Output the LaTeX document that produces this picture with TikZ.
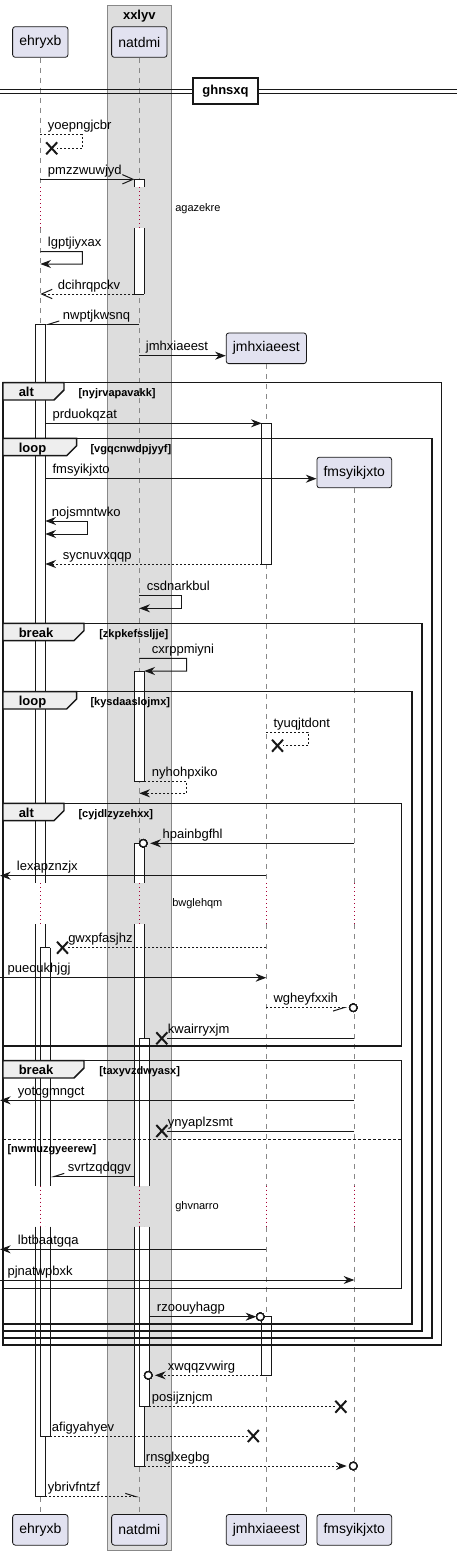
\documentclass[tikz,border=0pt]{standalone}
\usepackage{fontspec}
\setmainfont{Liberation Sans}
\usepackage{xcolor}
\usetikzlibrary{arrows.meta}

\definecolor{seqline}{HTML}{181818}
\definecolor{partfill}{HTML}{E2E2F0}
\definecolor{boxfill}{HTML}{DDDDDD}
\definecolor{boxline}{HTML}{888888}
\definecolor{tabfill}{HTML}{EEEEEE}
\definecolor{delayred}{HTML}{A80036}

% message label: x, baseline y, text
\newcommand{\mlab}[3]{\node[mlabel] (lb-#3) at (#1,#2) {#3};}
% destroy cross at a named coordinate
\newcommand{\killmark}[1]{\draw[xmark] (#1) ++(-5.5,-6) -- ++(11,12) ++(0,-12) -- ++(-11,12);}
% group frame: top, bottom, right, tab right, keyword, guard, guard x
\newcommand{\grpframe}[7]{%
  \draw[frame] (3,#1) rectangle (#3,#2);
  \draw[ftab] (3,#1) -- (#4,#1) -- (#4,#1+7.3) -- (#4-10,#1+17.3) -- (3,#1+17.3) -- cycle;
  \node[ftitle] (kw-#6) at (18.5,#1+14) {#5};
  \node[guard] (gd-#6) at (#7,#1+14) {[#6]};
}

\begin{document}
\begin{tikzpicture}[x=0.75pt, y=-0.75pt]
        % ================= styles =================
        \tikzset{
            % participant boxes
            part/.style={draw=seqline, fill=partfill, rounded corners=2pt, line width=0.6pt,
                minimum height=23pt, inner xsep=5pt, inner ysep=0pt, font=\fontsize{10.5}{12}\selectfont},
            % lifelines and delays
            lifeline/.style={draw=boxline, line width=0.7pt, dash pattern=on 3.75pt off 3.75pt},
            delayline/.style={draw=delayred, line width=0.75pt, dash pattern=on 0.75pt off 2.25pt},
            % activation bars
            actv/.style={draw=seqline, line width=0.75pt},
            % messages
            msg/.style={draw=seqline, line width=0.75pt},
            ret/.style={msg, dash pattern=on 1.5pt off 1.5pt},
            fillhead/.style={-{Stealth[length=8pt, width=6pt, inset=2.6pt]}},
            bothhead/.style={{Stealth[length=8pt, width=6pt, inset=2.6pt]}-{Stealth[length=8pt, width=6pt, inset=2.6pt]}},
            openhead/.style={-{Straight Barb[length=8pt, width=7pt]}},
            halfleft/.style={-{Straight Barb[left, length=8pt, width=5pt]}},
            halfright/.style={-{Straight Barb[right, length=8pt, width=5pt]}},
            mlabel/.style={anchor=base west, inner sep=0pt, font=\fontsize{9.75}{11}\selectfont},
            delaytext/.style={anchor=west, inner sep=0pt, font=\fontsize{8.25}{10}\selectfont},
            % marks
            xmark/.style={draw=seqline, line width=1.5pt},
            omark/.style={draw=seqline, fill=white, line width=0.9pt},
            % frames
            frame/.style={draw=seqline, line width=1.1pt},
            ftab/.style={draw=seqline, fill=tabfill, line width=1.1pt},
            ftitle/.style={anchor=base west, inner sep=0pt, font=\bfseries\fontsize{9.75}{11}\selectfont},
            guard/.style={anchor=base west, inner sep=0pt, font=\bfseries\fontsize{8.25}{10}\selectfont},
            divbox/.style={draw=seqline, fill=white, line width=1.5pt, minimum width=48.75pt,
                minimum height=19.5pt, inner sep=0pt, font=\bfseries\fontsize{9.75}{11}\selectfont}
        }
        \useasboundingbox (0,0) rectangle (457,1555);

        % ================= box xxlyv =================
        \draw[fill=boxfill, draw=boxline, line width=0.75pt] (107.3,6) rectangle (171.3,1550);
        \node[font=\bfseries\fontsize{9.75}{11}\selectfont, inner sep=0pt] (xxlyv) at (139.3,15.7) {xxlyv};

        % ================= participants =================
        \node[part] (ehryxb) at (40.3,42) {ehryxb};
        \node[part] (natdmi) at (139.3,42) {natdmi};
        \node[part] (jmhxiaeest) at (266.3,348.3) {jmhxiaeest};
        \node[part] (fmsyikjxto) at (354.3,472.5) {fmsyikjxto};
        \node[part] (ehryxb-b) at (40.3,1529.8) {ehryxb};
        \node[part] (natdmi-b) at (139.3,1529.8) {natdmi};
        \node[part] (jmhxiaeest-b) at (266.3,1529.8) {jmhxiaeest};
        \node[part] (fmsyikjxto-b) at (354.3,1529.8) {fmsyikjxto};

        % lifeline x positions and bar edges
        \coordinate (edgeL) at (0,0);
        \coordinate (ehL) at (35.7,0);
        \coordinate (eh) at (40.3,0);
        \coordinate (ehA) at (45.3,0);
        \coordinate (ehB) at (50.3,0);
        \coordinate (naL) at (134.3,0);
        \coordinate (na) at (139.3,0);
        \coordinate (naA) at (144.3,0);
        \coordinate (naB) at (149.3,0);
        \coordinate (jmL) at (261.7,0);
        \coordinate (jm) at (266.3,0);
        \coordinate (jmA) at (271.7,0);
        \coordinate (fm) at (354.3,0);

        % lifelines, broken at the three delays
        \foreach \c/\p in {eh/ehryxb, na/natdmi}
            \draw[lifeline] (\p.south) -- (\c |- 0,187.3) (\c |- 0,228.3) -- (\c |- 0,883.3);
        \foreach \c/\p in {jm/jmhxiaeest, fm/fmsyikjxto}
            \draw[lifeline] (\p.south) -- (\c |- 0,883.3);
        \foreach \c/\p in {eh/ehryxb, na/natdmi, jm/jmhxiaeest, fm/fmsyikjxto}
            \draw[lifeline] (\c |- 0,924) -- (\c |- 0,1185.7) (\c |- 0,1226.7) -- (\p-b.north);
        \foreach \c in {eh, na}
            \draw[delayline] (\c |- 0,187.3) -- (\c |- 0,228.3);
        \foreach \c in {eh, na, jm, fm}
            \draw[delayline] (\c |- 0,883.3) -- (\c |- 0,924) (\c |- 0,1185.7) -- (\c |- 0,1226.7);

        % ================= activation bars =================
        % left/right/top/bottom/top cap/bottom cap (0 = open at a delay)
        \foreach \l/\r/\t/\b/\tc/\bc in {naL/naA/179.3/187.3/1/0, naL/naA/228.3/294/0/1,
                ehL/ehA/324.3/883.3/1/0, ehL/ehA/924/1185.7/0/0, ehL/ehA/1226.7/1496.7/0/1,
                jmL/jmA/423.3/564/1/1, naL/naA/671/781/1/1,
                naL/naA/843.3/883.3/1/0, naL/naA/924/1185.7/0/0, naL/naA/1226.7/1466/0/1,
                eh/ehB/947.7/1185.7/1/0, eh/ehB/1226.7/1436/0/1,
                na/naB/1038.3/1185.7/1/0, na/naB/1226.7/1406.7/0/1,
                jmL/jmA/1316.7/1375/1/1}
        {
            \fill[white] (\l |- 0,\t) rectangle (\r |- 0,\b);
            \draw[actv] (\l |- 0,\t) -- (\l |- 0,\b) (\r |- 0,\t) -- (\r |- 0,\b);
            \draw[actv, draw opacity=\tc] (\l |- 0,\t) -- (\r |- 0,\t);
            \draw[actv, draw opacity=\bc] (\l |- 0,\b) -- (\r |- 0,\b);
        }

        % ================= divider ghnsxq =================
        \draw[msg] (0,89.3) -- (457,89.3) (0,93.3) -- (457,93.3);
        \node[divbox] (ghnsxq) at (225.5,91) {ghnsxq};

        % ================= groups =================
        \grpframe{382.7}{1345}{441.7}{64}{alt}{nyjrvapavakk}{78.3}
        \grpframe{438.3}{1338}{432}{76.7}{loop}{vgqcnwdpjyyf}{90.3}
        \grpframe{623.3}{1331}{422}{84}{break}{zkpkefssljje}{99}
        \grpframe{691.7}{1324}{412}{76.7}{loop}{kysdaaslojmx}{90.3}
        \grpframe{803.3}{1046}{401.7}{64}{alt}{cyjdlzyzehxx}{78.3}
        \grpframe{1060.7}{1288.3}{401.7}{84}{break}{taxyvzdwyasx}{99}
        % else branch
        \draw[msg, dash pattern=on 2.25pt off 1.5pt] (3,1139.7) -- (401.7,1139.7);
        \node[guard] (gd-nwmuzgyeerew) at (7.3,1152) {[nwmuzgyeerew]};

        % ================= delay texts =================
        \node[delaytext] (dl-agazekre) at (175,208.7) {agazekre};
        \node[delaytext] (dl-bwglehqm) at (172,904) {bwglehqm};
        \node[delaytext] (dl-ghvnarro) at (175,1206.7) {ghvnarro};

        % ================= marks =================
        \coordinate (k-yoepngjcbr) at (51.7,148.3);
        \coordinate (k-tyuqjtdont) at (277.5,745.7);
        \coordinate (k-gwxpfasjhz) at (62.5,947.7);
        \coordinate (k-kwairryxjm) at (161.8,1038.3);
        \coordinate (k-ynyaplzsmt) at (161.8,1131);
        \coordinate (k-posijznjcm) at (340.8,1406.7);
        \coordinate (k-afigyahyev) at (253.3,1436);
        \coordinate (o-hpainbgfhl) at (143.3,843.3);
        \coordinate (o-wgheyfxxih) at (353.3,1007.7);
        \coordinate (o-rzoouyhagp) at (260.3,1316.7);
        \coordinate (o-xwqqzvwirg) at (148.3,1375.3);
        \coordinate (o-rnsglxegbg) at (353.3,1466);

        % ================= messages =================
        \draw[ret, shorten >=4pt] (eh |- 0,135) -- ++(42,0) -- ++(0,13.3) -- (k-yoepngjcbr);
        \mlab{47.7}{130}{yoepngjcbr}
        \draw[msg, openhead] (eh |- 0,179.3) -- (naL |- 0,179.3);
        \mlab{47.7}{174.3}{pmzzwuwjyd}
        \draw[msg, fillhead] (eh |- 0,251.7) -- ++(42,0) -- ++(0,12.3) -- (eh |- 0,264);
        \mlab{47.7}{246.7}{lgptjiyxax}
        \draw[ret, openhead] (naL |- 0,294) -- (eh |- 0,294);
        \mlab{57.7}{289}{dcihrqpckv}
        \draw[msg, halfright] (na |- 0,324.3) -- (ehA |- 0,324.3);
        \mlab{62.7}{319.3}{nwptjkwsnq}
        \draw[msg, fillhead] (na |- 0,355.7) -- (jmhxiaeest.west |- 0,355.7);
        \mlab{145.7}{350.7}{jmhxiaeest}
        \draw[msg, fillhead] (ehA |- 0,423.3) -- (jmL |- 0,423.3);
        \mlab{52.3}{418.3}{prduokqzat}
        \draw[msg, fillhead] (ehA |- 0,478.7) -- (fmsyikjxto.west |- 0,478.7);
        \mlab{52.3}{473.7}{fmsyikjxto}
        \draw[msg, bothhead] (ehA |- 0,521) -- ++(42,0) -- ++(0,13) -- (ehA |- 0,534);
        \mlab{51.7}{516}{nojsmntwko}
        \draw[ret, fillhead] (jmL |- 0,564) -- (ehA |- 0,564);
        \mlab{62.7}{559}{sycnuvxqqp}
        \draw[msg, fillhead] (na |- 0,595.7) -- ++(42.4,0) -- ++(0,12.6) -- (na |- 0,608.3);
        \mlab{146.7}{590.7}{csdnarkbul}
        \draw[msg, fillhead] (na |- 0,658.3) -- ++(47.4,0) -- ++(0,12.7) -- (naA |- 0,671);
        \mlab{151.7}{653.3}{cxrppmiyni}
        \draw[ret, shorten >=4pt] (jm |- 0,732) -- ++(42,0) -- ++(0,13.7) -- (k-tyuqjtdont);
        \mlab{273.3}{727}{tyuqjtdont}
        \draw[ret, fillhead] (naA |- 0,781) -- ++(42.4,0) -- ++(0,12.3) -- (na |- 0,793.3);
        \mlab{151.7}{776}{nyhohpxiko}
        \draw[msg, fillhead, shorten >=5.2pt] (fm |- 0,843.3) -- (o-hpainbgfhl);
        \mlab{162.3}{838.3}{hpainbgfhl}
        \draw[msg, fillhead] (jm |- 0,875.7) -- (edgeL |- 0,875.7);
        \mlab{16.7}{870.7}{lexapznzjx}
        \draw[ret, shorten >=4pt] (jm |- 0,947.7) -- (k-gwxpfasjhz);
        \mlab{68}{942.7}{gwxpfasjhz}
        \draw[msg, fillhead] (edgeL |- 0,977.7) -- (jm |- 0,977.7);
        \mlab{7.3}{972.7}{pueoukhjgj}
        \draw[ret, halfright, shorten >=4.7pt] (jm |- 0,1007.7) -- (o-wgheyfxxih);
        \mlab{273.3}{1002.7}{wgheyfxxih}
        \draw[msg, shorten >=4pt] (fm |- 0,1038.3) -- (k-kwairryxjm);
        \mlab{167.7}{1033.3}{kwairryxjm}
        \draw[msg, fillhead] (fm |- 0,1100.3) -- (edgeL |- 0,1100.3);
        \mlab{17.7}{1095.3}{yotcgmngct}
        \draw[msg, shorten >=4pt] (fm |- 0,1131) -- (k-ynyaplzsmt);
        \mlab{167.7}{1126}{ynyaplzsmt}
        \draw[msg, halfright] (naL |- 0,1176.7) -- (ehB |- 0,1176.7);
        \mlab{67.7}{1171.7}{svrtzqdqgv}
        \draw[msg, fillhead] (jm |- 0,1249.3) -- (edgeL |- 0,1249.3);
        \mlab{17.7}{1244.3}{lbtbaatgqa}
        \draw[msg, fillhead] (edgeL |- 0,1280) -- (fm |- 0,1280);
        \mlab{7.3}{1275}{pjnatwpbxk}
        \draw[msg, fillhead, shorten >=3pt] (naB |- 0,1316.7) -- (o-rzoouyhagp);
        \mlab{156.7}{1311.7}{rzoouyhagp}
        \draw[ret, fillhead, shorten >=5pt] (jmL |- 0,1375.3) -- (o-xwqqzvwirg);
        \mlab{167.7}{1370.3}{xwqqzvwirg}
        \draw[ret, shorten >=4pt] (naB |- 0,1406.7) -- (k-posijznjcm);
        \mlab{151.7}{1401.7}{posijznjcm}
        \draw[ret, shorten >=4pt] (ehB |- 0,1436) -- (k-afigyahyev);
        \mlab{51.7}{1431}{afigyahyev}
        \draw[ret, fillhead, shorten >=5pt] (naA |- 0,1466) -- (o-rnsglxegbg);
        \mlab{145.7}{1461}{rnsglxegbg}
        \draw[ret, halfleft] (ehA |- 0,1496.7) -- (na |- 0,1496.7);
        \mlab{47.7}{1491.7}{ybrivfntzf}

        % crosses and circles on top
        \foreach \k in {yoepngjcbr, tyuqjtdont, gwxpfasjhz, kwairryxjm, ynyaplzsmt, posijznjcm, afigyahyev}
            \killmark{k-\k}
        \foreach \o in {hpainbgfhl, wgheyfxxih, rzoouyhagp, xwqqzvwirg, rnsglxegbg}
            \draw[omark] (o-\o) circle[radius=2.8pt];
\end{tikzpicture}
\end{document}
